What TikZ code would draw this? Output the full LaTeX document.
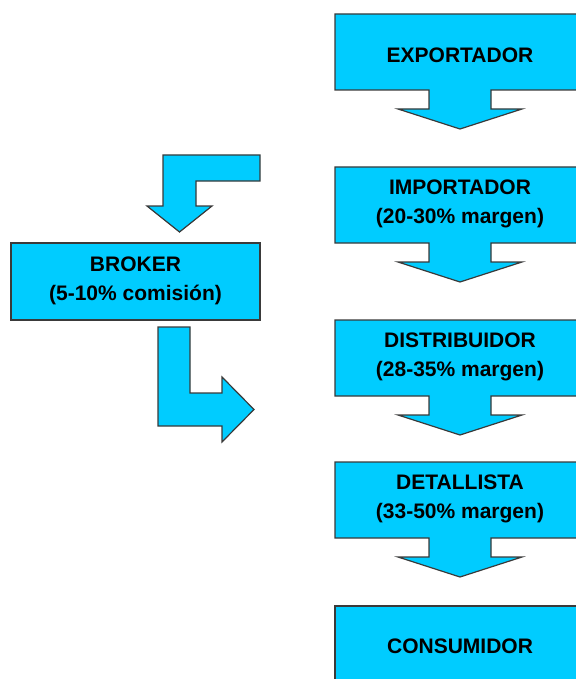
\documentclass[tikz,border=0pt]{standalone}
\usepackage{fontspec}
\setmainfont{Liberation Sans}
\definecolor{fillcyan}{HTML}{00CCFF}
\definecolor{edgegray}{HTML}{3A3A3A}
\tikzset{
  shapebox/.style={fill=fillcyan, draw=edgegray, line width=1.2pt, line join=miter},
  label/.style={font=\fontsize{21}{29}\selectfont\bfseries, align=center, text=black, inner sep=0pt}
}
% callout box with a down arrow: #1 = top edge, box 76 high, stem 19, head 20
\newcommand{\downcallout}[1]{%
  \path[shapebox] (335,#1) -- (586,#1) -- (586,#1+76) -- (491,#1+76) -- (491,#1+95)
    -- (522,#1+95) -- (460,#1+115) -- (398,#1+95) -- (429,#1+95) -- (429,#1+76)
    -- (335,#1+76) -- cycle;}
\begin{document}
\begin{tikzpicture}[x=1pt, y=-1pt]
  \useasboundingbox (0,0) rectangle (575,679);

  % main chain of callouts
  \downcallout{14}
  \downcallout{167}
  \downcallout{320}
  \downcallout{462}
  \path[shapebox] (335,606) rectangle (586,690);

  \node[label] (exp) at (460,55) {EXPORTADOR};
  \node[label] (imp) at (460,204) {IMPORTADOR\\(20-30\% margen)};
  \node[label] (dis) at (460,357) {DISTRIBUIDOR\\(28-35\% margen)};
  \node[label] (det) at (460,499) {DETALLISTA\\(33-50\% margen)};
  \node[label] (con) at (460,646) {CONSUMIDOR};

  % broker branch
  \path[shapebox] (163,155) -- (260,155) -- (260,181) -- (196,181) -- (196,206)
    -- (212,206) -- (179.5,232) -- (147,206) -- (163,206) -- cycle;
  \path[shapebox] (11,243) rectangle (260,320);
  \node[label] (bro) at (135.5,281) {BROKER\\(5-10\% comisión)};
  \path[shapebox] (158,327) -- (190,327) -- (190,393) -- (222,393) -- (222,377)
    -- (254,409.5) -- (222,442) -- (222,426) -- (158,426) -- cycle;
\end{tikzpicture}
\end{document}
